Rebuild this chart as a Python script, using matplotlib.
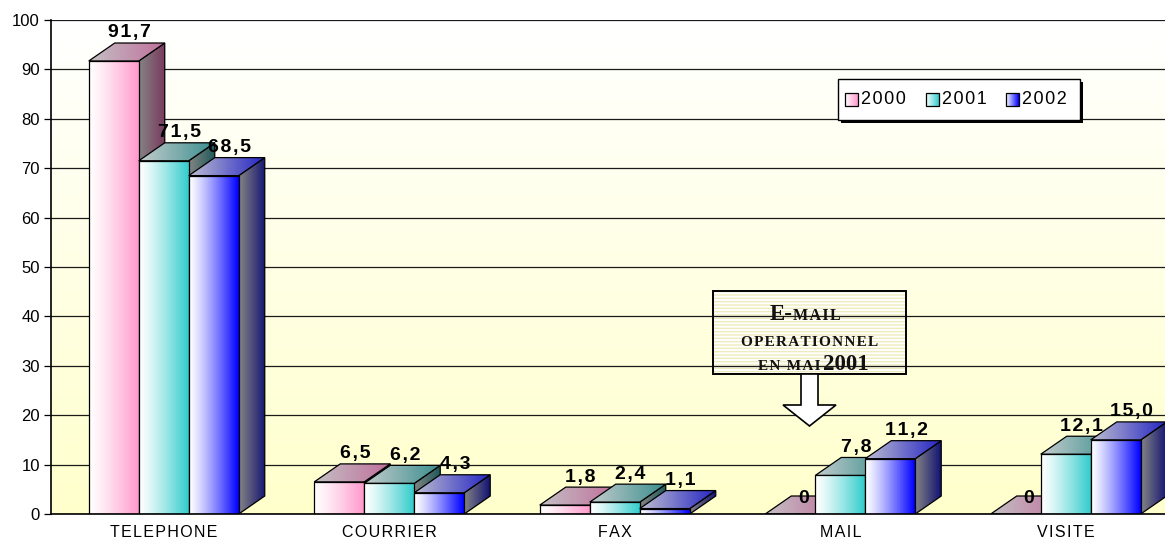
import numpy as np
import matplotlib.pyplot as plt
from matplotlib.patches import Polygon, Rectangle
from matplotlib.colors import to_rgb

plt.rcParams['font.family'] = ['Liberation Sans', 'DejaVu Sans']

# donnees du graphique
categories = ['TELEPHONE', 'COURRIER', 'FAX', 'MAIL', 'VISITE']
annees = ['2000', '2001', '2002']
val_2000 = [91.7, 6.5, 1.8, 0, 0]
val_2001 = [71.5, 6.2, 2.4, 7.8, 12.1]
val_2002 = [68.5, 4.3, 1.1, 11.2, 15.0]
yticks = [0, 10, 20, 30, 40, 50, 60, 70, 80, 90, 100]
series = [val_2000, val_2001, val_2002]

# couleurs (face avant, dessus, cote)
avant = ['#FF99CC', '#33CCCC', '#0000FF']
dessus = [('#c4c0c4', '#c0709c'), ('#c4cccc', '#3a8e8e'), ('#bcbcd0', '#2626c4')]
cote = [('#848484', '#7a3a5e'), ('#848484', '#1e5a5a'), ('#848484', '#141474')]

HAIR = '\u200a'


def espace(s):
    # Excel ecartait un peu les lettres
    return HAIR.join(s)


W, H = 1165, 543
fig = plt.figure(figsize=(W / 100, H / 100), dpi=100)
# zone de trace en pixels (elle deborde a droite comme dans l'original)
ax_l, ax_b, ax_w, ax_h = 51, 29, 1127.5, 494
ax = fig.add_axes([ax_l / W, ax_b / H, ax_w / W, ax_h / H])
n = len(categories)
ax.set_xlim(0, n)
ax.set_ylim(0, 100)
ax.set_autoscale_on(False)

px_x = ax_w / n      # pixels par categorie
px_y = ax_h / 100    # pixels par unite
larg = 50 / px_x     # largeur d'une barre
ddx = 26 / px_x      # profondeur 3D
ddy = 18 / px_y


def px(x, y):
    # pixel de l'image -> coordonnees des donnees
    return ((x - ax_l) / px_x, (H - ax_b - y) / px_y)


def degrade(axe, verts, c0, c1, z, gamma=1.0, lw=0.9):
    poly = Polygon(verts, closed=True, fc='none', ec='black', lw=lw,
                   zorder=z + 0.0005, joinstyle='miter')
    axe.add_patch(poly)
    t = np.linspace(0, 1, 64) ** gamma
    a, b = np.array(to_rgb(c0)), np.array(to_rgb(c1))
    img = (a + (b - a) * t[:, None])[None, :, :]
    xs = [v[0] for v in verts]
    ys = [v[1] for v in verts]
    im = axe.imshow(img, extent=[min(xs), max(xs), min(ys), max(ys)],
                    aspect='auto', interpolation='bilinear', zorder=z)
    im.set_clip_path(poly)


# fond blanc -> jaune pale
fond = np.linspace([1, 1, 1], [1, 1, 0.8], 100)[:, None, :]
ax.imshow(fond, extent=[0, n, 0, 100], aspect='auto', zorder=0.1,
          interpolation='bilinear')

# barres 3D
z = 2.0
for i in range(n):
    for j, vals in enumerate(series):
        v = vals[i]
        x0 = i + 0.5 - 1.5 * larg + j * larg
        x1 = x0 + larg
        if v > 0:
            degrade(ax, [(x1, 0), (x1 + ddx, ddy), (x1 + ddx, v + ddy), (x1, v)],
                    cote[j][0], cote[j][1], z)
            z += 0.001
        degrade(ax, [(x0, v), (x1, v), (x1 + ddx, v + ddy), (x0 + ddx, v + ddy)],
                dessus[j][0], dessus[j][1], z)
        z += 0.001
        if v > 0:
            degrade(ax, [(x0, 0), (x1, 0), (x1, v), (x0, v)],
                    'white', avant[j], z, gamma=1.2)
            z += 0.001

        xc = (x0 + x1) / 2 + ddx / 2
        if v == 0:
            ax.annotate('0', (xc, ddy), xytext=(0, -2), textcoords='offset points',
                        ha='center', va='center', fontsize=14, fontweight='bold', zorder=10)
        else:
            lbl = espace(f'{v:.1f}'.replace('.', ','))
            ax.annotate(lbl, (xc, v + ddy), xytext=(2, 4), textcoords='offset points',
                        ha='center', va='baseline', fontsize=14, fontweight='bold', zorder=10)

# axes, grille
ax.set_yticks(yticks)
ax.set_xticks([i + 0.5 for i in range(n)], [espace(c) for c in categories])
ax.grid(axis='y', color='#1a1a1a', lw=0.9)
ax.set_axisbelow(True)
for s in ['top', 'right']:
    ax.spines[s].set_visible(False)
for s in ['left', 'bottom']:
    ax.spines[s].set_linewidth(1.2)
    ax.spines[s].set_zorder(5)
ax.tick_params(axis='y', length=5, width=0.9, labelsize=12, pad=3)
ax.tick_params(axis='x', length=0, labelsize=11.5, pad=8)

# encadre "E-MAIL OPERATIONNEL"
bx0, by0 = px(713, 374)
bx1, by1 = px(906, 291)
ax.add_patch(Rectangle((bx0, by0), bx1 - bx0, by1 - by0, fc='white', ec='#f0ebbc',
                       hatch='-----', lw=0, zorder=0.3))
ax.add_patch(Rectangle((bx0, by0), bx1 - bx0, by1 - by0, fc='none', ec='black',
                       lw=1.4, zorder=6))
fleche = [px(801, 374), px(818, 374), px(818, 405), px(836, 405),
          px(809.5, 426), px(783, 405), px(801, 405)]
ax.add_patch(Polygon(fleche, closed=True, fc='white', ec='black', lw=1.2, zorder=6))

serif = dict(family=['Liberation Serif', 'DejaVu Serif'], fontweight='bold',
             color='#111111', zorder=7)
ax.text(*px(793, 320), 'E-', ha='right', va='baseline', fontsize=16.5, **serif)
ax.text(*px(793, 320), espace('MAIL'), ha='left', va='baseline', fontsize=11.5, **serif)
ax.text(*px(809.5, 346), espace('OPERATIONNEL'), ha='center', va='baseline', fontsize=11, **serif)
ax.text(*px(820, 370), espace('EN MAI'), ha='right', va='baseline', fontsize=11, **serif)
ax.text(*px(823, 370), '2001', ha='left', va='baseline', fontsize=16.5, **serif)

# legende dessinee a la main
lax = fig.add_axes([838 / W, (H - 120) / H, 242 / W, 41 / H])
lax.set_xlim(0, 242)
lax.set_ylim(0, 41)
lax.axis('off')
lax.add_patch(Rectangle((3, -3), 242, 41, fc='black', clip_on=False, zorder=1))
lax.add_patch(Rectangle((0, 0), 242, 41, fc='white', ec='black', lw=1, clip_on=False, zorder=2))
for k, an in enumerate(annees):
    sx = 7 + k * 80.5
    degrade(lax, [(sx, 14), (sx + 13, 14), (sx + 13, 27), (sx, 27)],
            'white', avant[k], 3 + k * 0.01)
    lax.text(sx + 16, 20.5, espace(an), ha='left', va='center', fontsize=13, zorder=4)

fig.savefig('out.png', dpi=100)
